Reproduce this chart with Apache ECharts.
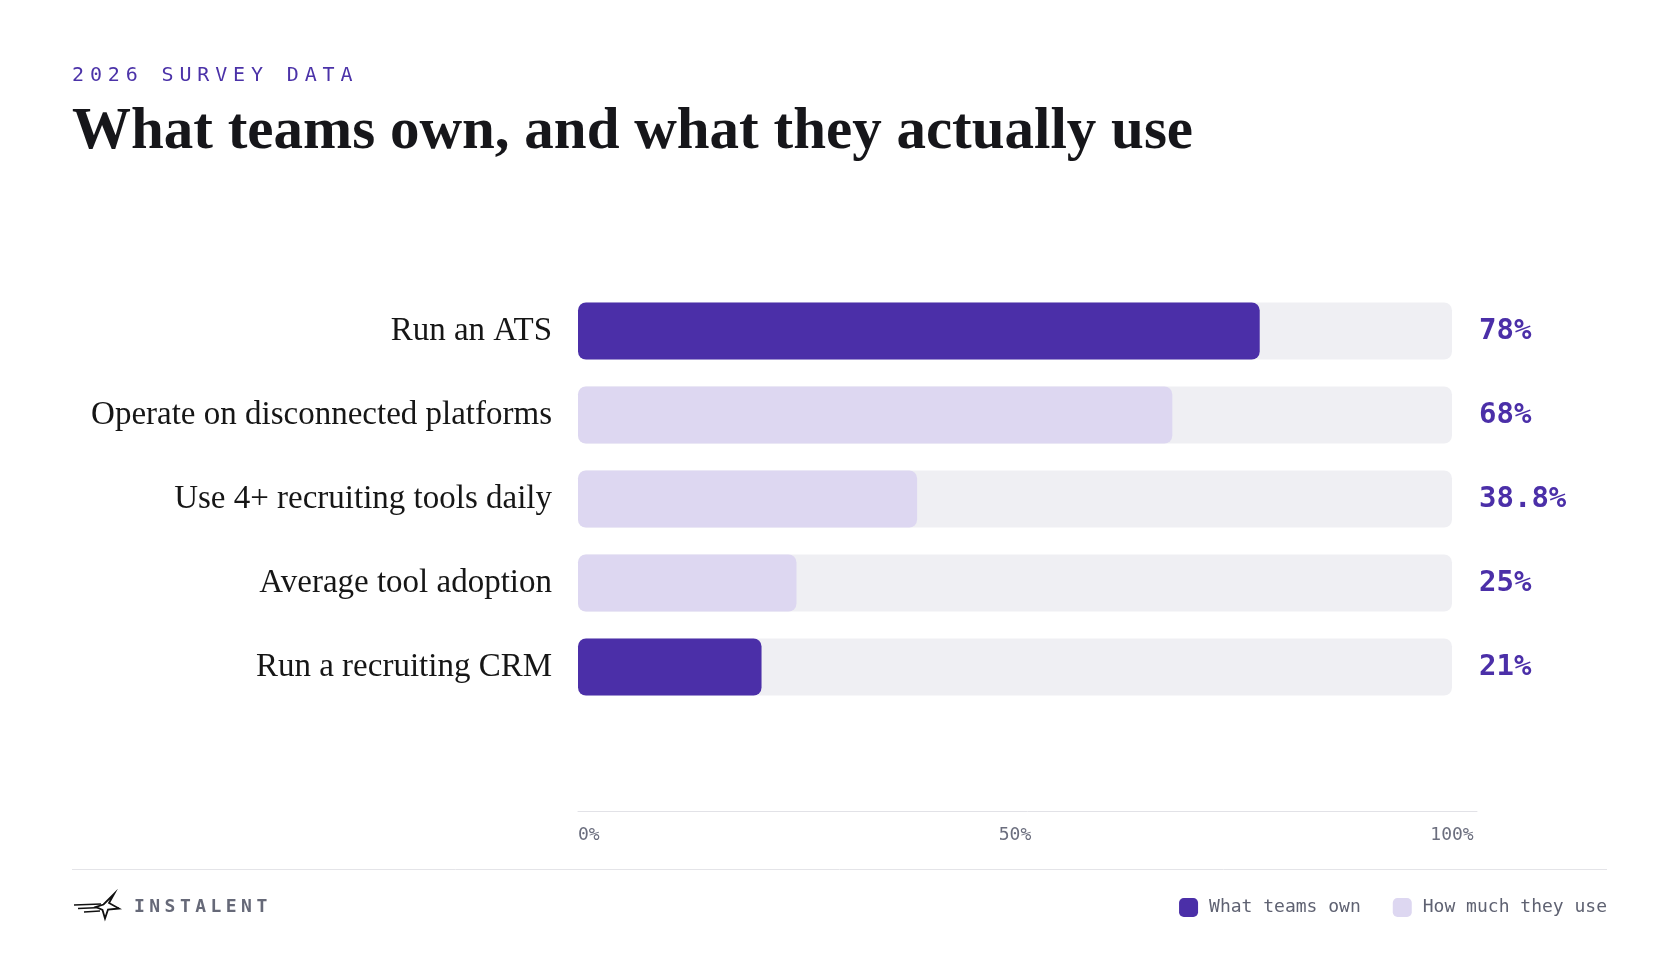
<!DOCTYPE html>
<html>
<head>
<meta charset="utf-8">
<script src="https://cdn.jsdelivr.net/npm/echarts@6/dist/echarts.min.js"></script>
<style>
html,body{margin:0;padding:0;background:#fff;}
#c{width:1680px;height:980px;}
</style>
</head>
<body>
<div id="c"></div>
<script>
// ---- data ----
var categories = ['Run an ATS', 'Operate on disconnected platforms', 'Use 4+ recruiting tools daily', 'Average tool adoption', 'Run a recruiting CRM'];
var ownValues = [78, '-', '-', '-', 21];
var useValues = ['-', 68, 38.8, 25, '-'];
var seriesNames = ['What teams own', 'How much they use'];
var xTicks = [0, 50, 100];
var kicker = '2026 SURVEY DATA';
var headline = 'What teams own, and what they actually use';
var brand = 'INSTALENT';

var PURPLE = '#4B2FA8';
var LAVENDER = '#DDD7F1';
var TRACK = '#EFEFF3';
var MONO = '"DejaVu Sans Mono", "Liberation Mono", monospace';
var SERIF = '"Liberation Serif", "DejaVu Serif", serif';

function shownValue(i) {
  var v = ownValues[i] !== '-' ? ownValues[i] : useValues[i];
  return v + '%';
}

// letter-spaced monospace text, one glyph per text element
function spacedText(str, x0, y, step, font, color) {
  return {
    type: 'group', silent: true,
    children: str.split('').map(function (ch, i) {
      return {type: 'text', x: x0 + i * step, y: y,
        style: {text: ch, font: font, fill: color, verticalAlign: 'middle', align: 'left'}};
    })
  };
}

var fade = function () {
  return new echarts.graphic.LinearGradient(0, 0, 1, 0, [{offset: 0, color: 'rgba(17,17,17,0)'}, {offset: 1, color: '#111'}], true);
};

var chart = echarts.init(document.getElementById('c'), null, {renderer: 'canvas'});
var option = {
  backgroundColor: '#ffffff',
  animation: false,
  title: [
    {text: headline, left: 67, top: 98, textStyle: {fontFamily: SERIF, fontSize: 59, fontWeight: 'bold', color: '#16161a'}}
  ],
  legend: {
    data: seriesNames,
    right: 68,
    top: 893,
    icon: 'roundRect',
    itemWidth: 19,
    itemHeight: 19,
    itemGap: 32,
    textStyle: {fontFamily: MONO, fontSize: 18, color: '#5f6272', padding: [0, 0, 0, 6]}
  },
  grid: [
    {left: 578, right: 228, top: 289, height: 420},
    {left: 578, right: 203, top: 810, height: 1}
  ],
  xAxis: [
    {
      type: 'value', gridIndex: 0, min: 0, max: 100, interval: 50, offset: 102,
      axisLine: {show: false}, axisTick: {show: false}, splitLine: {show: false},
      axisLabel: {
        margin: 15, fontFamily: MONO, fontSize: 18, color: '#6b6e7e', alignMinLabel: 'left',
        customValues: xTicks,
        formatter: function (v) { return v + '%'; }
      }
    },
    {
      type: 'value', gridIndex: 1, min: 0, max: 100,
      axisLine: {show: true, lineStyle: {color: '#e2e2e7', width: 1}},
      axisTick: {show: false}, splitLine: {show: false}, axisLabel: {show: false}
    }
  ],
  yAxis: [
    {
      type: 'category', gridIndex: 0, data: categories, inverse: true,
      axisLine: {show: false}, axisTick: {show: false},
      axisLabel: {margin: 26, fontFamily: SERIF, fontSize: 33, color: '#161616', padding: [4, 0, 0, 0]}
    },
    {
      type: 'category', gridIndex: 0, data: categories, inverse: true, position: 'right',
      axisLine: {show: false}, axisTick: {show: false},
      axisLabel: {
        margin: 27, align: 'left', fontFamily: MONO, fontSize: 29, fontWeight: 'bold', color: PURPLE,
        padding: [6, 0, 0, 0],
        formatter: function (v, i) { return shownValue(i); }
      }
    },
    {type: 'category', gridIndex: 1, show: false, data: ['']}
  ],
  series: [
    {
      name: seriesNames[0], type: 'bar', xAxisIndex: 0, yAxisIndex: 0,
      data: ownValues, barWidth: 57, barGap: '-100%',
      itemStyle: {color: PURPLE, borderRadius: 8},
      showBackground: true, backgroundStyle: {color: TRACK, borderRadius: 8}
    },
    {
      name: seriesNames[1], type: 'bar', xAxisIndex: 0, yAxisIndex: 0,
      data: useValues, barWidth: 57, barGap: '-100%',
      itemStyle: {color: LAVENDER, borderRadius: 8}
    }
  ],
  graphic: [
    spacedText(kicker, 72, 76, 17.9, 'normal 20px ' + MONO, '#4B32A8'),
    spacedText(brand, 134, 907, 15.3, 'bold 18px ' + MONO, '#666978'),
    {type: 'line', shape: {x1: 72, y1: 869.5, x2: 1607, y2: 869.5}, style: {stroke: '#e4e4e8', lineWidth: 1}, silent: true},
    {type: 'group', silent: true, children: [
      {type: 'line', shape: {x1: 74, y1: 905, x2: 101, y2: 904}, style: {lineWidth: 1.6, stroke: fade()}},
      {type: 'line', shape: {x1: 78, y1: 908.5, x2: 101, y2: 907.5}, style: {lineWidth: 1.6, stroke: fade()}},
      {type: 'line', shape: {x1: 84, y1: 912, x2: 100, y2: 911}, style: {lineWidth: 1.4, stroke: fade()}},
      {type: 'polygon', shape: {points: [[114, 894], [109, 903], [119, 908.5], [108, 909.5], [105, 918.5], [102.5, 910], [96, 907], [103.5, 904.5]]}, style: {fill: '#fff', stroke: '#111', lineWidth: 1.8, lineJoin: 'miter'}}
    ]}
  ]
};
chart.setOption(option);
</script>
</body>
</html>
